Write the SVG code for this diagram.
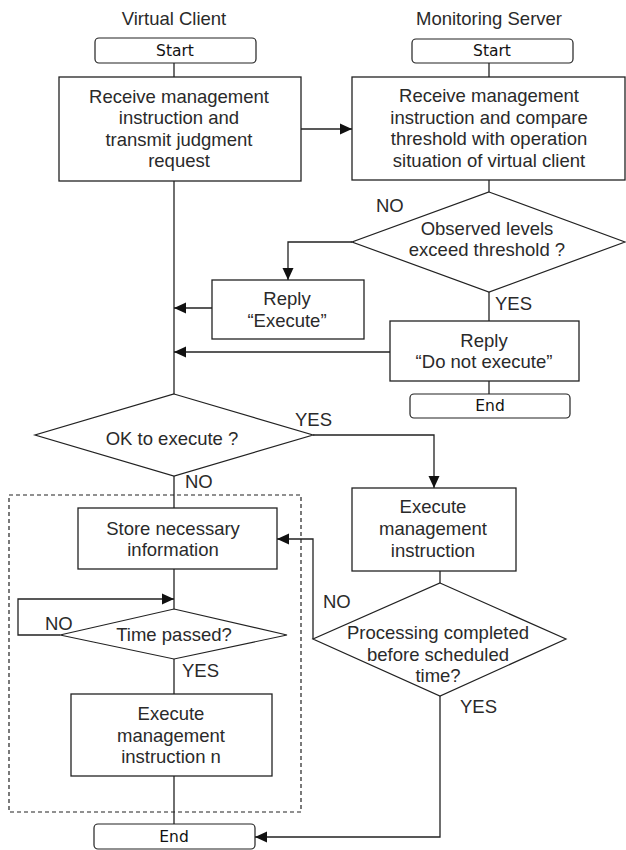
<svg xmlns="http://www.w3.org/2000/svg" width="626" height="850" viewBox="0 0 626 850">
  <style>
    .box { fill: #fff; stroke: #222; stroke-width: 1.3; }
    .term { fill: #fff; stroke: #222; stroke-width: 1.2; }
    .dia { fill: #fff; stroke: #222; stroke-width: 1.2; }
    .lbl { font-family: "Liberation Sans", Arial, sans-serif; font-size: 18.5px; fill: #2a2a2a; text-anchor: middle; }
    .yn { font-family: "Liberation Sans", Arial, sans-serif; font-size: 18.5px; fill: #2a2a2a; }
    .tt { font-family: "DejaVu Sans", sans-serif; font-size: 15.5px; fill: #111; text-anchor: middle; }
    .conn { fill: none; stroke: #222; stroke-width: 1.3; }
    .dash { fill: none; stroke: #222; stroke-width: 1.2; stroke-dasharray: 4 3; }
  </style>
  <defs>
    <marker id="arrow" viewBox="0 0 12 12" refX="12" refY="6" markerWidth="12" markerHeight="12" markerUnits="userSpaceOnUse" orient="auto">
      <path d="M0,0.5 L12,6 L0,11.5 z" fill="#111"/>
    </marker>
  </defs>

  <rect width="626" height="850" fill="#fff"/>

  <!-- lane titles -->
  <text class="lbl" x="174" y="25">Virtual Client</text>
  <text class="lbl" x="489" y="25">Monitoring Server</text>

  <!-- grouping frame around deferred execution -->
  <rect class="dash" x="9" y="495" width="292" height="317"/>

  <!-- connectors -->
  <g id="connectors">
    <path class="conn" d="M174,63 V77"/>
    <path class="conn" d="M174,181 V394"/>
    <path class="conn" d="M301,129 H352" marker-end="url(#arrow)"/>
    <path class="conn" d="M489,63 V77"/>
    <path class="conn" d="M489,180 V192"/>
    <path class="conn" d="M352,242 H288 V280" marker-end="url(#arrow)"/>
    <path class="conn" d="M212,308 H174" marker-end="url(#arrow)"/>
    <path class="conn" d="M489,292 V321"/>
    <path class="conn" d="M390,352 H174" marker-end="url(#arrow)"/>
    <path class="conn" d="M489,381 V394"/>
    <path class="conn" d="M313,435 H434 V488" marker-end="url(#arrow)"/>
    <path class="conn" d="M174,476 V508"/>
    <path class="conn" d="M174,569 V609"/>
    <path class="conn" d="M60,635 H18 V599 H174" marker-end="url(#arrow)"/>
    <path class="conn" d="M174,659 V694"/>
    <path class="conn" d="M174,776 V824"/>
    <path class="conn" d="M440,571 V583"/>
    <path class="conn" d="M313,639 V539 H277" marker-end="url(#arrow)"/>
    <path class="conn" d="M440,696 V837 H255" stroke="#777" marker-end="url(#arrow)"/>
  </g>

  <!-- branch labels -->
  <text class="yn" x="376" y="212">NO</text>
  <text class="yn" x="495" y="310">YES</text>
  <text class="yn" x="295" y="426">YES</text>
  <text class="yn" x="185" y="488">NO</text>
  <text class="yn" x="45" y="630">NO</text>
  <text class="yn" x="182" y="677">YES</text>
  <text class="yn" x="323" y="608">NO</text>
  <text class="yn" x="460" y="713">YES</text>

  <g id="client-start">
    <rect class="term" x="95" y="38" width="161" height="25" rx="4"/>
    <text class="tt" x="175" y="56">Start</text>
  </g>

  <g id="client-receive">
    <rect class="box" x="59" y="77" width="242" height="104"/>
    <text class="lbl" x="179" y="103">Receive management</text>
    <text class="lbl" x="179" y="124">instruction and</text>
    <text class="lbl" x="179" y="146">transmit judgment</text>
    <text class="lbl" x="179" y="167">request</text>
  </g>

  <g id="server-start">
    <rect class="term" x="412" y="39" width="161" height="24" rx="4"/>
    <text class="tt" x="492" y="56">Start</text>
  </g>

  <g id="server-compare">
    <rect class="box" x="352" y="77" width="273" height="103"/>
    <text class="lbl" x="489" y="102">Receive management</text>
    <text class="lbl" x="489" y="124">instruction and compare</text>
    <text class="lbl" x="489" y="145">threshold with operation</text>
    <text class="lbl" x="489" y="167">situation of virtual client</text>
  </g>

  <g id="server-threshold">
    <polygon class="dia" points="489,192 625,242 489,292 352,242"/>
    <text class="lbl" x="487" y="235">Observed levels</text>
    <text class="lbl" x="487" y="256">exceed threshold ?</text>
  </g>

  <g id="reply-execute">
    <rect class="box" x="212" y="280" width="152" height="59"/>
    <text class="lbl" x="287" y="305">Reply</text>
    <text class="lbl" x="287" y="327">“Execute”</text>
  </g>

  <g id="reply-do-not-execute">
    <rect class="box" x="390" y="321" width="189" height="60"/>
    <text class="lbl" x="484" y="347">Reply</text>
    <text class="lbl" x="484" y="368">“Do not execute”</text>
  </g>

  <g id="server-end">
    <rect class="term" x="410" y="394" width="160" height="24" rx="4"/>
    <text class="tt" x="490" y="411">End</text>
  </g>

  <g id="ok-to-execute">
    <polygon class="dia" points="174,394 313,435 174,476 35,435"/>
    <text class="lbl" x="172" y="445">OK to execute ?</text>
  </g>

  <g id="store-info">
    <rect class="box" x="78" y="508" width="199" height="61"/>
    <text class="lbl" x="173" y="535">Store necessary</text>
    <text class="lbl" x="173" y="556">information</text>
  </g>

  <g id="time-passed">
    <polygon class="dia" points="174,609 287,635 174,659 60,635"/>
    <text class="lbl" x="174" y="641">Time passed?</text>
  </g>

  <g id="execute-n">
    <rect class="box" x="71" y="694" width="201" height="82"/>
    <text class="lbl" x="171" y="720">Execute</text>
    <text class="lbl" x="171" y="742">management</text>
    <text class="lbl" x="171" y="763">instruction n</text>
  </g>

  <g id="execute-now">
    <rect class="box" x="352" y="488" width="164" height="83"/>
    <text class="lbl" x="433" y="513">Execute</text>
    <text class="lbl" x="433" y="535">management</text>
    <text class="lbl" x="433" y="557">instruction</text>
  </g>

  <g id="completed-in-time">
    <polygon class="dia" points="440,583 566,639 440,696 313,639"/>
    <text class="lbl" x="438" y="639">Processing completed</text>
    <text class="lbl" x="438" y="661">before scheduled</text>
    <text class="lbl" x="438" y="682">time?</text>
  </g>

  <g id="client-end">
    <rect class="term" x="94" y="824" width="161" height="25" rx="4"/>
    <text class="tt" x="174" y="842">End</text>
  </g>
</svg>
